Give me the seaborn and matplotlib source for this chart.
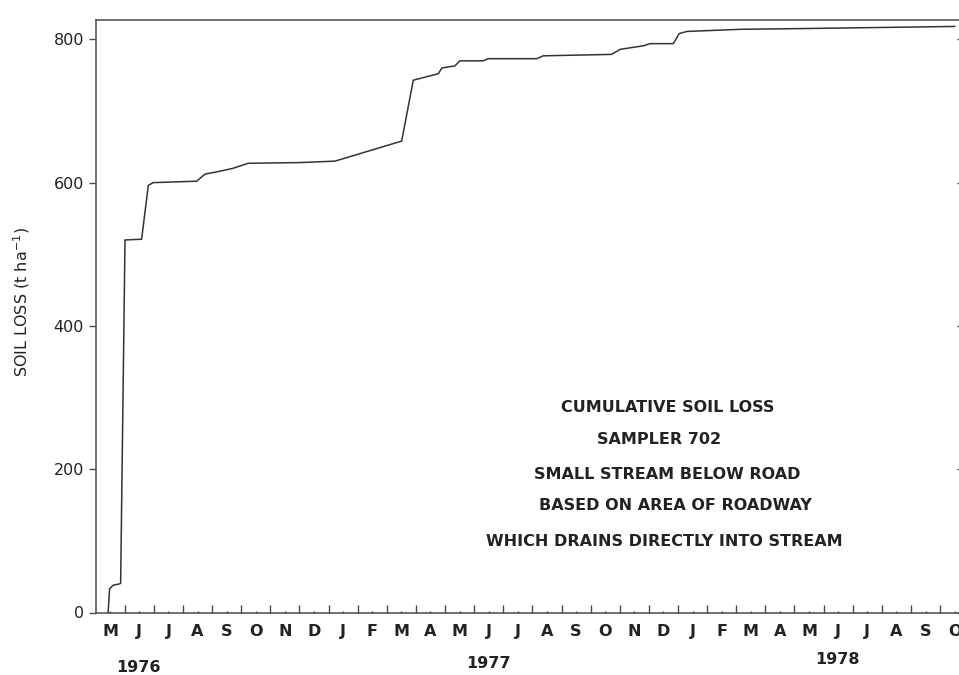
import matplotlib
matplotlib.use("Agg")
import matplotlib.pyplot as plt
import matplotlib.transforms as mtransforms
import numpy as np
import pandas as pd
import seaborn as sns

# Cumulative soil loss, sampler 702 (time in months since 1 May 1976)
month_pos = [0.43, 0.48, 0.60, 0.83, 0.86, 1.01, 1.58, 1.81, 1.97, 3.47,
             3.76, 4.16, 4.72, 5.24, 7.02, 8.22, 10.51, 10.91, 11.77, 11.89,
             12.34, 12.51, 13.31, 13.49, 15.15, 15.37, 17.72, 18.01, 18.81, 19.04,
             19.84, 20.04, 20.30, 22.13, 24.19, 29.51]
soil_loss = [0, 33, 38, 40, 41, 520, 521, 596, 600, 602,
             612, 615, 620, 627, 628, 630, 658, 743, 752, 760,
             763, 770, 770, 773, 773, 777, 779, 786, 791, 794,
             794, 808, 811, 814, 815, 818]

month_letters = ["M", "J", "J", "A", "S", "O", "N", "D", "J", "F", "M", "A",
                 "M", "J", "J", "A", "S", "O", "N", "D", "J", "F", "M", "A",
                 "M", "J", "J", "A", "S", "O"]
year_labels = ["1976", "1977", "1978"]
year_pos = [1.46, 13.5, 25.46]
y_ticks = [0, 200, 400, 600, 800]

note_lines = ["CUMULATIVE SOIL LOSS", "SAMPLER 702", "SMALL STREAM BELOW ROAD",
              "BASED ON AREA OF ROADWAY", "WHICH DRAINS DIRECTLY INTO STREAM"]

df = pd.DataFrame({"month": month_pos, "loss": soil_loss})

sns.set_style("ticks")
plt.rcParams["font.family"] = ["DejaVu Sans"]

W, H = 959, 675
fig = plt.figure(figsize=(W / 100, H / 100), dpi=100)
fig.patch.set_facecolor("white")

x_left, x_right = 95.6, 969.2
y_bottom, y_top = 612.5, 20.0
ax = fig.add_axes([x_left / W, 1 - y_bottom / H, (x_right - x_left) / W, (y_bottom - y_top) / H])

ink = "#222222"
spine_col = "#4a4a4a"

sns.lineplot(data=df, x="month", y="loss", ax=ax, color="#333333", lw=1.1,
             sort=False, estimator=None)

ax.set_xlim(0, 30)
ax.set_ylim(0, 827)

for s in ax.spines.values():
    s.set_color(spine_col)
    s.set_linewidth(1.1)

# y axis: outward ticks on the left with labels
ax.set_yticks(y_ticks)
ax.set_yticklabels([str(v) for v in y_ticks])
ax.tick_params(axis="y", which="major", direction="out", length=5.4, width=1.0,
               color=spine_col, pad=3, labelsize=11.5, labelcolor=ink)

# inward ticks on the right edge
ax_r = ax.twinx()
ax_r.set_ylim(ax.get_ylim())
ax_r.set_yticks(y_ticks)
ax_r.set_yticklabels([])
ax_r.tick_params(axis="y", direction="in", length=8.6, width=1.0, color=spine_col)
for s in ax_r.spines.values():
    s.set_visible(False)

# x axis: month boundaries as inward ticks, month letters at mid-month
ax.set_xticks(np.arange(1, 30))
ax.set_xticklabels([])
ax.set_xticks(np.arange(30) + 0.5, minor=True)
ax.set_xticklabels(month_letters, minor=True)
ax.tick_params(axis="x", which="major", direction="in", length=5.8, width=1.0, color=spine_col)
ax.tick_params(axis="x", which="minor", direction="in", length=1.5, width=1.0, color=spine_col,
               pad=8.5, labelsize=11.5, labelcolor=ink)
for lab in ax.get_xticklabels(minor=True):
    lab.set_fontweight("bold")

ax.set_xlabel("")
ax.set_ylabel("SOIL LOSS (t ha$^{-1}$)", fontsize=11.5, color=ink)
ax.yaxis.set_label_coords((31.7 - x_left) / (x_right - x_left), (y_bottom - 302) / (y_bottom - y_top))

# year captions under the month row
trans = mtransforms.blended_transform_factory(ax.transData, fig.transFigure)
for yr, pos, ypx in zip(year_labels, year_pos, [668, 663, 660]):
    ax.text(pos, 1 - ypx / H, yr, transform=trans, ha="center", va="center",
            fontsize=11.5, fontweight="bold", color=ink)

# descriptive note block
note_xy = [(667.5, 407.7), (659, 440), (667, 474.3), (675, 505), (664, 541)]
for line, (cx, cy) in zip(note_lines, note_xy):
    fig.text(cx / W, 1 - cy / H, line, ha="center", va="center",
             fontsize=11.5, fontweight="bold", color=ink)

fig.savefig("out.png", dpi=100, facecolor="white")
